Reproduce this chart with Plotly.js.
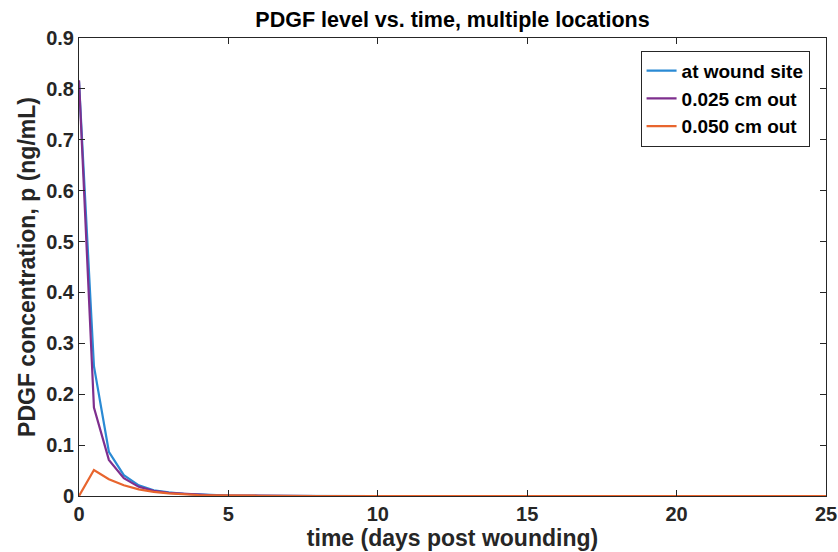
<!DOCTYPE html>
<html><head><meta charset="utf-8">
<script src="https://cdn.plot.ly/plotly-3.0.1.min.js"></script>
<style>body{margin:0;background:#fff}#c{width:838px;height:552px}</style>
</head><body><div id="c"></div>
<script>
const time = [0, 0.5, 1, 1.5, 2, 2.5, 3, 3.5, 4, 4.5, 5, 6, 8, 10, 15, 20, 25];
const woundSite = [0.815, 0.255, 0.087, 0.041, 0.021, 0.011, 0.007, 0.004, 0.003, 0.002, 0.001, 0.0005, 0, 0, 0, 0, 0];
const out025 = [0.817, 0.174, 0.071, 0.035, 0.018, 0.010, 0.006, 0.004, 0.002, 0.0015, 0.001, 0.0005, 0, 0, 0, 0, 0];
const out050 = [0, 0.051, 0.033, 0.021, 0.013, 0.008, 0.005, 0.003, 0.002, 0.0015, 0.001, 0.0005, 0, 0, 0, 0, 0];
const xTicks = [0, 5, 10, 15, 20, 25];
const names = ["at wound site", "0.025 cm out", "0.050 cm out"];
const colors = ["#2a8ad4", "#7e2f8e", "#e8652e"];
const series = [woundSite, out025, out050];
const font = "Liberation Sans, Arial, Helvetica, sans-serif";
const traces = series.map((y, i) => ({
  x: time, y: y, name: names[i], type: "scatter", mode: "lines",
  line: {color: colors[i], width: 2.2}
}));
const axisCommon = {
  showline: true, mirror: "ticks", linecolor: "#262626", linewidth: 1,
  ticks: "inside", ticklen: 6, tickcolor: "#262626", showgrid: false, zeroline: false,
  ticklabeloverflow: "allow",
  tickfont: {family: font, size: 20, color: "#262626", weight: "bold"}
};
const layout = {
  width: 838, height: 552,
  margin: {l: 79, r: 12, t: 38, b: 56},
  paper_bgcolor: "#fff", plot_bgcolor: "#fff",
  title: {text: "PDGF level vs. time, multiple locations", x: 0.5, xref: "paper", y: 0.9656, yanchor: "middle",
    font: {family: font, size: 21.5, color: "#000", weight: "bold"}},
  xaxis: Object.assign({}, axisCommon, {range: [0, 25], tickmode: "array", tickvals: xTicks,
    ticktext: xTicks.map(String),
    title: {text: "time (days post wounding)", standoff: 0, font: {family: font, size: 23, color: "#262626", weight: "bold"}}}),
  yaxis: Object.assign({}, axisCommon, {range: [0, 0.9], dtick: 0.1,
    title: {text: "PDGF concentration, p (ng/mL)", standoff: 4, font: {family: font, size: 23, color: "#262626", weight: "bold"}}}),
  legend: {x: 0.978, y: 0.972, xanchor: "right", yanchor: "top", bgcolor: "#fff",
    bordercolor: "#262626", borderwidth: 1, tracegroupgap: 0,
    font: {family: font, size: 19, color: "#000", weight: "bold"}},
  showlegend: true
};
Plotly.newPlot("c", traces, layout, {displayModeBar: false, staticPlot: true});
</script></body></html>
